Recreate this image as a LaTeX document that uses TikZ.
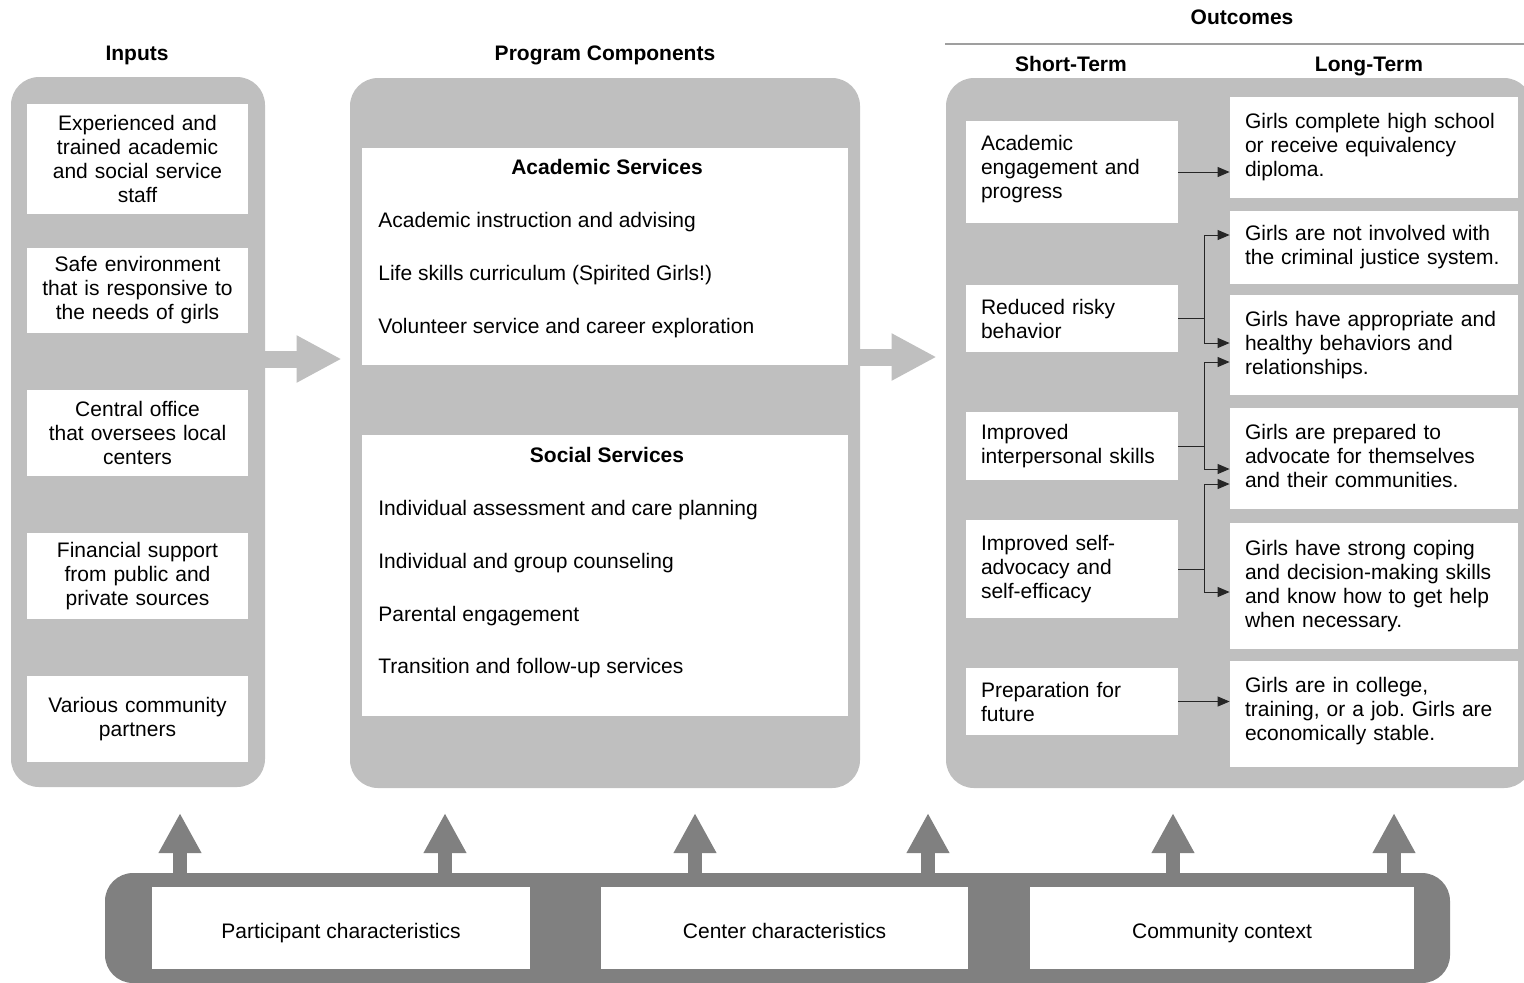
\documentclass[tikz,border=0pt]{standalone}
\usepackage{fontspec}
\setmainfont{Liberation Sans}
\usepackage{tikz}
\usetikzlibrary{arrows.meta,positioning}
\definecolor{panelgray}{gray}{0.75}
\definecolor{basegray}{gray}{0.5}
\tikzset{
  basic/.style  = {font=\fontsize{10.5}{12}\selectfont, inner sep=0pt, rectangle},
  oneline/.style = {text height=9pt, text depth=1.6pt},
  title/.style  = {basic, oneline, font=\bfseries\fontsize{10.5}{12}\selectfont},
  inbox/.style  = {basic, fill=white, align=center, text width=100pt,
                   minimum width=110.5pt},
  stbox/.style  = {basic, fill=white, align=left, inner xsep=7.5pt,
                   text width=91pt},
  ltbox/.style  = {basic, fill=white, align=left, inner xsep=7.5pt,
                   text width=129pt},
  svcbox/.style = {basic, fill=white, minimum width=243pt},
  item/.style   = {basic, oneline, anchor=west},
  botbox/.style = {basic, fill=white, text height=11pt, text depth=1pt,
                   minimum height=41pt}
}

\begin{document}
\frenchspacing
\begin{tikzpicture}[x=0.5pt, y=-0.5pt,
  panel/.style={basic, fill=panelgray, rounded corners=14pt},
  bigarrow/.style={draw=panelgray, line width=8.5pt,
                   -{Triangle[length=22.5pt,width=22pt]}},
  uparrow/.style={draw=basegray, line width=7pt,
                  -{Triangle[length=20pt,width=20pt]}},
  link/.style={draw=black!85, line width=0.5pt,
               -{Triangle[length=6pt,width=5pt]}}]

\useasboundingbox (0,0) rectangle (1524,982);

% the three grey panels
\node[panel, minimum width=127pt, minimum height=355pt] (inputs) at (138,432) {};
\node[panel, minimum width=255pt, minimum height=355pt] (prog) at (605,433) {};
\node[panel, minimum width=293pt, minimum height=355pt] (outc) at (1239,433) {};

% headings
\node[title] (tin) at (137,53) {Inputs};
\node[title] (tprog) at (605,53) {Program Components};
\node[title] (tout) at (1242,17) {Outcomes};
\node[title] (tst) at (1071,64) {Short-Term};
\node[title] (tlt) at (1369,64) {Long-Term};
\draw[gray!75, line width=0.6pt] (945,44) -- (1524,44);

% big arrows between panels
\draw[bigarrow, shorten >=4pt] ([yshift=36.5pt]inputs.east) -- ([yshift=36.5pt]inputs.east -| prog.west);
\draw[bigarrow, shorten >=4.5pt] ([yshift=38pt]prog.east) -- ([yshift=38pt]prog.east -| outc.west);

% inputs
\node[inbox, minimum height=55pt] (in1) at (137.5,159) {Experienced and\\trained academic\\and social service\\staff};
\node[inbox, minimum height=42.5pt] (in2) at (137.5,290.5) {Safe environment\\that is responsive to\\the needs of girls};
\node[inbox, minimum height=43pt] (in3) at (137.5,433) {Central office\\that oversees local\\centers};
\node[inbox, minimum height=43pt] (in4) at (137.5,576) {Financial support\\from public and\\private sources};
\node[inbox, minimum height=43pt] (in5) at (137.5,719) {Various community\\partners};

% program components
\node[svcbox, minimum height=108.5pt] (acad) at (605,256.5) {};
\node[title] (acadt) at (607,167) {Academic Services};
\node[item] (ac1) at (378,220) {Academic instruction and advising};
\node[item] (ac2) at (378,273) {Life skills curriculum (Spirited Girls!)};
\node[item] (ac3) at (378,326) {Volunteer service and career exploration};

\node[svcbox, minimum height=140.5pt] (soc) at (605,575.5) {};
\node[title] (soct) at (607,455) {Social Services};
\node[item] (so1) at (378,508) {Individual assessment and care planning};
\node[item] (so2) at (378,561) {Individual and group counseling};
\node[item] (so3) at (378,614) {Parental engagement};
\node[item] (so4) at (378,666) {Transition and follow-up services};

% short-term outcomes
\node[stbox, minimum height=51pt] (st1) at (1072,172) {Academic\\engagement and\\progress\vspace{3pt}};
\node[stbox, minimum height=33.5pt] (st2) at (1072,318.5) {Reduced risky\\behavior};
\node[stbox, minimum height=34pt] (st3) at (1072,446) {Improved\\interpersonal skills};
\node[stbox, minimum height=49pt] (st4) at (1072,569) {Improved self-\\advocacy and\\self-efficacy};
\node[stbox, minimum height=33.5pt] (st5) at (1072,701.5) {Preparation for\\future};

% long-term outcomes
\node[ltbox, minimum height=50.5pt] (lt1) at (1374,147.5) {Girls complete high school\\or receive equivalency\\diploma.};
\node[ltbox, minimum height=36.5pt] (lt2) at (1374,247.5) {Girls are not involved with\\the criminal justice system.};
\node[ltbox, minimum height=50pt] (lt3) at (1374,345) {Girls have appropriate and\\healthy behaviors and\\relationships.};
\node[ltbox, minimum height=50.5pt] (lt4) at (1374,458.5) {Girls are prepared to\\advocate for themselves\\and their communities.\vspace{3pt}};
\node[ltbox, minimum height=63pt] (lt5) at (1374,586) {Girls have strong coping\\and decision-making skills\\and know how to get help\\when necessary.};
\node[ltbox, minimum height=53pt] (lt6) at (1374,714) {Girls are in college,\\training, or a job. Girls are\\economically stable.\vspace{3pt}};

% links short-term -> long-term
\draw[link] (st1.east) -- (st1.east -| lt1.west);
\draw[link] (st2.east) -- ++(26,0) |- ([yshift=6.25pt]lt2.west);
\draw[link] (st2.east) -- ++(26,0) |- ([yshift=1pt]lt3.west);
\draw[link] (st3.east) -- ++(26,0) |- ([yshift=-8.5pt]lt3.west);
\draw[link] (st3.east) -- ++(26,0) |- ([yshift=-5.25pt]lt4.west);
\draw[link] (st4.east) -- ++(26,0) |- ([yshift=-12.75pt]lt4.west);
\draw[link] (st4.east) -- ++(26,0) |- ([yshift=-3pt]lt5.west);
\draw[link] (st5.east) -- (st5.east -| lt6.west);

% context bar at the bottom
\node[basic, fill=basegray, rounded corners=14pt, minimum width=672.5pt, minimum height=55pt] (base) at (777.5,928) {};
\foreach \ux in {180,445,695,928,1173,1394}
  \draw[uparrow] (\ux,873) -- (\ux,813);
\node[botbox, minimum width=189pt] (part) at (341,928) {Participant characteristics};
\node[botbox, minimum width=183.5pt] (cent) at (784.5,928) {Center characteristics};
\node[botbox, minimum width=192pt] (comm) at (1222,928) {Community context};

\end{tikzpicture}
\end{document}
